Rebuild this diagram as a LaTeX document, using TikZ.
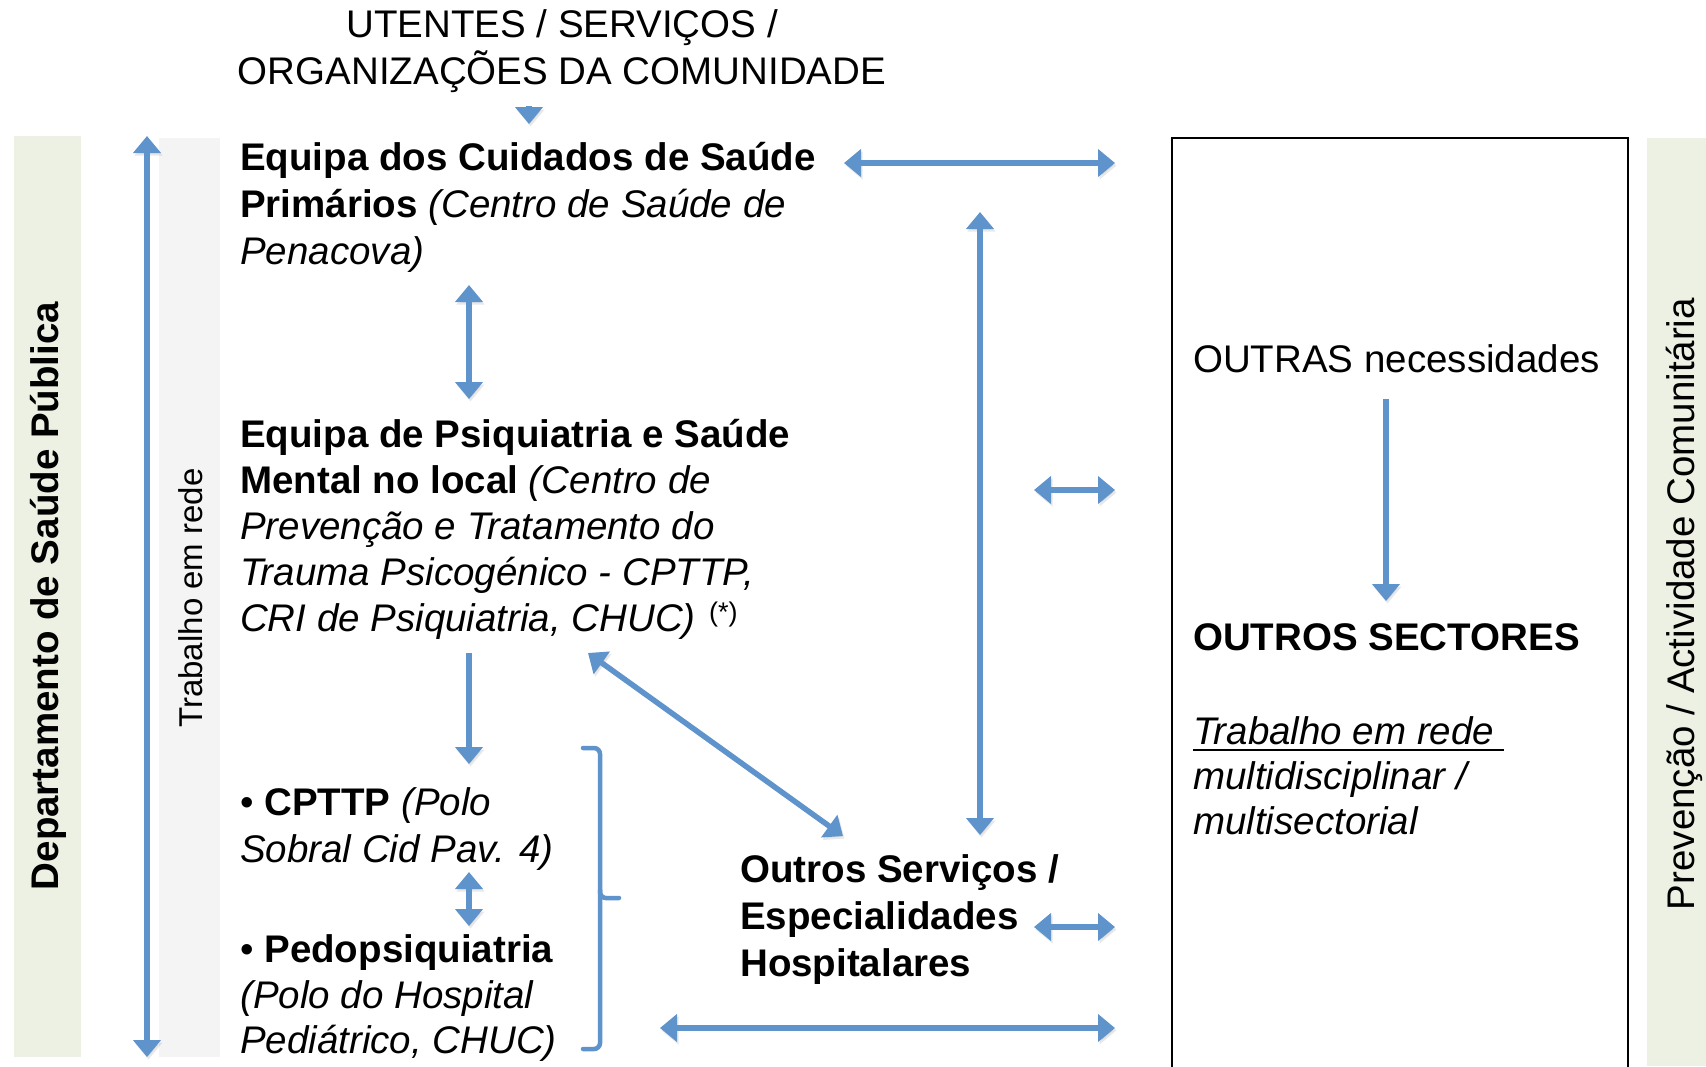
\documentclass[tikz,border=0pt]{standalone}
\usepackage{fontspec}
\setmainfont{Liberation Sans}
\usetikzlibrary{arrows.meta}
\definecolor{arrblue}{RGB}{94,147,204}
\definecolor{bandgreen}{RGB}{237,241,228}
\definecolor{bandgrey}{RGB}{244,244,244}
\begin{document}
\begin{tikzpicture}[x=1pt,y=-1pt,
  txt/.style={anchor=base west, inner sep=0pt, font=\fontsize{38.5}{46}\selectfont},
  ctxt/.style={anchor=base, inner sep=0pt, font=\fontsize{38.5}{46}\selectfont},
  shad/.style={preaction={draw=black!60, opacity=0.15, transform canvas={shift={(1.5pt,-2.5pt)}}}},
  arr/.style={shad, draw=arrblue, line width=5.5pt, -{Triangle[length=17pt,width=27pt]}},
  darr/.style={shad, draw=arrblue, line width=5.5pt, {Triangle[length=17pt,width=27pt]}-{Triangle[length=17pt,width=27pt]}},
  bracketline/.style={draw=arrblue, line width=4.5pt, rounded corners=6pt, line cap=round},
]
\clip (0,0) rectangle (1706,1066);
\fill[white] (0,0) rectangle (1706,1066);

% side bands
\fill[bandgreen] (14,136) rectangle (81,1057);
\fill[bandgrey] (159,138) rectangle (220,1057);
\fill[bandgreen] (1647,138) rectangle (1706,1066);

% right box
\draw[black, line width=2pt] (1172,138) rectangle (1628,1080);

% rotated labels
\node[rotate=90, inner sep=0pt, font=\fontsize{38.5}{46}\selectfont\bfseries] (dsp) at (48,596) {Departamento de Saúde Pública};
\node[rotate=90, inner sep=0pt, font=\fontsize{33}{40}\selectfont] (trd) at (191,598) {Trabalho em rede};
\node[rotate=90, inner sep=0pt, font=\fontsize{38.5}{46}\selectfont] (pac) at (1684,604) {Prevenção / Actividade Comunitária};

% top text
\node[ctxt] (top1) at (562,37) {UTENTES / SERVIÇOS /};
\node[ctxt] (top2) at (562,84) {ORGANIZAÇÕES DA COMUNIDADE};

% block A
\node[txt] (a1) at (240,170) {\textbf{Equipa dos Cuidados de Saúde}};
\node[txt] (a2) at (240,217) {\textbf{Primários} \textit{(Centro de Saúde de}};
\node[txt] (a3) at (240,264) {\textit{Penacova)}};

% block B
\node[txt] (b1) at (240,447) {\textbf{Equipa de Psiquiatria e Saúde}};
\node[txt] (b2) at (240,493) {\textbf{Mental no local} \textit{(Centro de}};
\node[txt] (b3) at (240,539) {\textit{Prevenção e Tratamento do}};
\node[txt] (b4) at (240,585) {\textit{Trauma Psicogénico - CPTTP,}};
\node[txt] (b5) at (240,631) {\textit{CRI de Psiquiatria, CHUC)}};
\node[anchor=base west, inner sep=0pt, font=\fontsize{27}{32}\selectfont] (ast) at (709,621) {(*)};

% block C
\node[txt] (c1) at (240,815) {• \textbf{CPTTP} \textit{(Polo}};
\node[txt] (c2) at (240,862) {\textit{Sobral Cid Pav. 4)}};
\node[txt] (c3) at (240,962) {• \textbf{Pedopsiquiatria}};
\node[txt] (c4) at (240,1008) {\textit{(Polo do Hospital}};
\node[txt] (c5) at (240,1053) {\textit{Pediátrico, CHUC)}};

% block D
\node[txt] (d1) at (740,882) {\textbf{Outros Serviços /}};
\node[txt] (d2) at (740,929) {\textbf{Especialidades}};
\node[txt] (d3) at (740,976) {\textbf{Hospitalares}};

% right box texts
\node[txt] (r1) at (1193,372) {OUTRAS necessidades};
\node[txt] (r2) at (1193,650) {\textbf{OUTROS SECTORES}};
\node[txt] (r3) at (1193,744) {\textit{Trabalho em rede }};
\node[txt] (r4) at (1193,789) {\textit{multidisciplinar /}};
\node[txt] (r5) at (1193,834) {\textit{multisectorial}};
\draw[black, line width=2.5pt] ([yshift=-6pt]r3.base west) -- ++(311,0);

% connector end points
\coordinate (t0) at (529,106);
\coordinate (t1) at (529,124);
\coordinate (L0) at (147,136);
\coordinate (L1) at (147,1057);
\coordinate (h1a) at (844,163);
\coordinate (h1b) at (1115,163);
\coordinate (v1a) at (469,285);
\coordinate (v1b) at (469,399);
\coordinate (V0) at (980,212);
\coordinate (V1) at (980,835);
\coordinate (h2a) at (1034,490);
\coordinate (h2b) at (1115,490);
\coordinate (v2a) at (469,653);
\coordinate (v2b) at (469,764);
\coordinate (g0) at (588,653);
\coordinate (g1) at (843,836);
\coordinate (v3a) at (469,872);
\coordinate (v3b) at (469,926);
\coordinate (h3a) at (1034,927);
\coordinate (h3b) at (1115,927);
\coordinate (h4a) at (660,1028);
\coordinate (h4b) at (1115,1028);
\coordinate (s0) at (1386,399);
\coordinate (s1) at (1386,601);

% connectors
\draw[arr] (t0) -- (t1);
\draw[darr] (L0) -- (L1);
\draw[darr] (h1a) -- (h1b);
\draw[darr] (v1a) -- (v1b);
\draw[darr] (V0) -- (V1);
\draw[darr] (h2a) -- (h2b);
\draw[arr] (v2a) -- (v2b);
\draw[darr] (g0) -- (g1);
\draw[darr] (v3a) -- (v3b);
\draw[darr] (h3a) -- (h3b);
\draw[darr] (h4a) -- (h4b);
\draw[arr] (s0) -- (s1);

% bracket
\coordinate (k0) at (583,748);
\coordinate (k1) at (619,898);
\coordinate (k2) at (583,1049);
\draw[bracketline] (k0) -- (600,748) -- (600,898) -- (k1);
\draw[bracketline] (600,890) -- (600,1049) -- (k2);
\end{tikzpicture}
\end{document}
